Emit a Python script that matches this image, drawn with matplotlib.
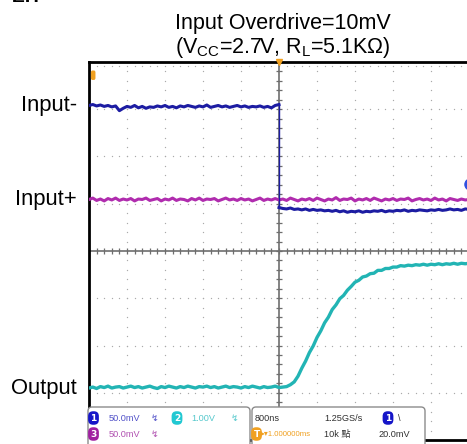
import numpy as np
import matplotlib
matplotlib.use("Agg")
import matplotlib.pyplot as plt
from matplotlib.patches import FancyBboxPatch
import matplotlib.transforms as mtransforms

# ---------------- data (screen divisions; x: -5..5 div, y: -4..4 div) ----------------
title_line1 = "Input Overdrive=10mV"
title_line2 = r"(V$_{\rm CC}$=2.7V, R$_{\rm L}$=5.1K$\Omega$)"
trace_labels = ["Input-", "Input+", "Output"]

input_minus_pre = [3.08, 3.10, 3.07, 3.09, 3.06, 3.08, 3.05, 3.07, 2.97, 3.02,
                   3.06, 3.04, 3.08, 3.03, 3.06, 3.02, 3.05, 3.04, 3.07, 3.05,
                   3.08, 3.04, 3.06, 3.03, 3.07, 3.05, 3.08, 3.06, 3.04, 3.07,
                   3.05, 3.09, 3.04, 3.06, 3.08, 3.05, 3.07, 3.04, 3.06, 3.08,
                   3.05, 3.07, 3.04, 3.06, 3.05, 3.07, 3.04, 3.06, 3.03, 3.08, 3.10]
input_minus_post = [0.92, 0.90, 0.89, 0.91, 0.88, 0.89, 0.87, 0.89, 0.86, 0.88,
                    0.86, 0.87, 0.85, 0.86, 0.84, 0.86, 0.83, 0.85, 0.82, 0.84,
                    0.83, 0.85, 0.82, 0.84, 0.83, 0.85, 0.84, 0.86, 0.83, 0.85,
                    0.84, 0.86, 0.85, 0.87, 0.84, 0.86, 0.85, 0.87, 0.86, 0.85,
                    0.87, 0.86, 0.88, 0.86, 0.87, 0.89, 0.87, 0.88, 0.86, 0.89, 0.88]
input_plus = [1.09, 1.12, 1.07, 1.10, 1.06, 1.11, 1.08, 1.12, 1.07, 1.10,
              1.08, 1.11, 1.06, 1.10, 1.09, 1.12, 1.07, 1.09, 1.11, 1.06,
              1.10, 1.08, 1.12, 1.07, 1.10, 1.09, 1.06, 1.11, 1.08, 1.12,
              1.07, 1.10, 1.09, 1.11, 1.06, 1.09, 1.12, 1.08, 1.10, 1.07,
              1.11, 1.08, 1.10, 1.06, 1.09, 1.12, 1.07, 1.10, 1.08, 1.11,
              1.08, 1.10, 1.07, 1.12, 1.09, 1.06, 1.10, 1.08, 1.11, 1.07,
              1.12, 1.09, 1.06, 1.10, 1.08, 1.13, 1.07, 1.10, 1.09, 1.12,
              1.06, 1.10, 1.08, 1.11, 1.07, 1.12, 1.09, 1.06, 1.10, 1.08,
              1.11, 1.07, 1.10, 1.09, 1.12, 1.06, 1.09, 1.11, 1.08, 1.10,
              1.07, 1.12, 1.08, 1.10, 1.06, 1.11, 1.09, 1.07, 1.10, 1.08, 1.09]
output = [-2.90, -2.88, -2.91, -2.87, -2.89, -2.86, -2.90, -2.88, -2.87, -2.90,
          -2.88, -2.86, -2.89, -2.87, -2.90, -2.88, -2.86, -2.89, -2.91, -2.87,
          -2.89, -2.86, -2.88, -2.90, -2.87, -2.89, -2.86, -2.88, -2.90, -2.87,
          -2.88, -2.86, -2.89, -2.87, -2.90, -2.88, -2.86, -2.89, -2.87, -2.88,
          -2.90, -2.87, -2.89, -2.86, -2.88, -2.90, -2.87, -2.89, -2.88, -2.86,
          -2.89, -2.88,
          -2.87, -2.83, -2.77, -2.65, -2.48, -2.33, -2.15, -2.01, -1.83, -1.69,
          -1.52, -1.40, -1.24, -1.14, -1.01, -0.94, -0.83, -0.75, -0.66, -0.62,
          -0.55, -0.53, -0.48, -0.47, -0.41, -0.41, -0.37, -0.37, -0.34, -0.34,
          -0.31, -0.32, -0.30, -0.31, -0.29, -0.30, -0.28, -0.30, -0.28, -0.29,
          -0.27, -0.29, -0.27, -0.28, -0.26, -0.28, -0.26, -0.27, -0.26]
ch1_marker_level = 1.41

info_left_row1 = ["50.0mV", "1.00V"]
info_left_row2 = ["50.0mV"]
info_right_row1 = ["800ns", "1.25GS/s", "\\"]
info_right_row2 = ["\u25b8\u25be1.000000ms", "10k 點", "20.0mV"]

# ---------------- style ----------------
BLUE = "#1c1ca2"
MAG = "#b02cae"
CYAN = "#22b4b4"
ORANGE = "#f0a020"
GRID = "#a9a9a9"
CENTER = "#6e6e6e"

plt.rcParams["font.family"] = ["Liberation Sans", "DejaVu Sans"]
plt.rcParams["mathtext.fontset"] = "custom"
plt.rcParams["mathtext.rm"] = "Liberation Sans"
plt.rcParams["mathtext.it"] = "Liberation Sans"

W, H = 467, 444
fig = plt.figure(figsize=(W / 100, H / 100), dpi=100)
fig.patch.set_facecolor("white")


def fx(px):
    return px / W


def fy(py):
    return 1 - py / H


ax = fig.add_axes([fx(89), fy(440), (469 - 89) / W, (440 - 62) / H])
ax.set_xlim(-5, 5)
ax.set_ylim(-4, 4)
ax.set_xticks([])
ax.set_yticks([])
ax.spines["right"].set_visible(False)
for s in ["left", "top", "bottom"]:
    ax.spines[s].set_linewidth(2.0)
    ax.spines[s].set_color("black")

# dotted graticule
minor_x = np.round(np.arange(-5, 5.001, 0.2), 3)
minor_y = np.round(np.arange(-4, 4.001, 0.2), 3)
for k in [-4, -3, -2, -1, 1, 2, 3, 4]:
    ax.scatter(np.full_like(minor_y, k), minor_y, s=0.9, color=GRID, lw=0, zorder=1)
for k in [-3, -2, -1, 1, 2, 3]:
    ax.scatter(minor_x, np.full_like(minor_x, k), s=0.9, color=GRID, lw=0, zorder=1)
ax.scatter(minor_x, np.full_like(minor_x, 3.92), s=0.9, color=GRID, lw=0, zorder=1)

# center cross with ticks
ax.axhline(0, color=CENTER, lw=1.2, zorder=1)
ax.axvline(0, color=CENTER, lw=1.2, zorder=1)
ax.scatter(minor_x, np.zeros_like(minor_x), marker="|", s=14, color=CENTER, lw=0.9, zorder=1)
ax.scatter(np.zeros_like(minor_y), minor_y, marker="_", s=14, color=CENTER, lw=0.9, zorder=1)

# traces
t_pre = np.linspace(-5, 0, len(input_minus_pre))
t_post = np.linspace(0, 5, len(input_minus_post))
t_plus = np.linspace(-5, 5, len(input_plus))
t_out = np.linspace(-5, 5, len(output))

ax.plot(t_plus, input_plus, color=MAG, lw=2.2, zorder=3)
ax.plot(t_out, output, color=CYAN, lw=2.4, zorder=3)
ax.plot(t_pre, input_minus_pre, color=BLUE, lw=2.2, zorder=4)
ax.plot(t_post, input_minus_post, color=BLUE, lw=2.2, zorder=4)
ax.plot([t_pre[-1], t_post[0]], [input_minus_pre[-1], input_minus_post[0]],
        color=BLUE, lw=1.0, zorder=4)

# markers
ax.plot([5.02], [ch1_marker_level], "o", ms=8, color="#3050e0", clip_on=False, zorder=5)
ax.plot([0], [4.0], marker="v", ms=4, color=ORANGE, clip_on=False, zorder=6)
ax.add_patch(FancyBboxPatch((-4.95, 3.62), 0.12, 0.2,
                            boxstyle="round,pad=0,rounding_size=0.04",
                            fc=ORANGE, ec="none", zorder=5))

# trace labels
levels = [input_minus_pre[0], input_plus[0], output[0]]
trans = mtransforms.blended_transform_factory(ax.transAxes, ax.transData)
off = mtransforms.ScaledTranslation(0, -5.5 / 100, fig.dpi_scale_trans)
for lab, lev in zip(trace_labels, levels):
    ax.text(-0.032, lev, lab, transform=trans + off, ha="right", va="baseline",
            fontsize=15.8, color="black", clip_on=False)

# title
fig.text(fx(282.5), fy(29.5), title_line1, ha="center", va="baseline", fontsize=15.5)
fig.text(fx(282.5), fy(52.5), title_line2, ha="center", va="baseline", fontsize=15.5)

# fragment of text cut at the top-left
fig.text(fx(0), fy(1.6), "- EH", ha="left", va="baseline", fontsize=14, fontweight="bold")

# ---------------- info boxes (overlay in pixel coordinates) ----------------
ov = fig.add_axes([0, 0, 1, 1], zorder=10)
ov.set_xlim(0, W)
ov.set_ylim(H, 0)
ov.axis("off")
ov.patch.set_alpha(0)

ov.add_patch(FancyBboxPatch((88, 407), 162, 42, boxstyle="round,pad=0,rounding_size=4",
                            fc="white", ec="#8c8c8c", lw=1.0))
ov.add_patch(FancyBboxPatch((252, 407), 173, 42, boxstyle="round,pad=0,rounding_size=4",
                            fc="white", ec="#8c8c8c", lw=1.0))

SMALL = ["Liberation Sans Narrow", "Liberation Sans", "Noto Sans CJK TC", "DejaVu Sans"]
fs = 6.6
r1, r2 = 418, 434


def badge(x, y, txt, color):
    ov.text(x, y, txt, ha="center", va="center", fontsize=6.5, color="white",
            fontweight="bold", family=["DejaVu Sans"],
            bbox=dict(boxstyle="round,pad=0.25,rounding_size=0.55", fc=color, ec="none"))


def small(x, y, txt, color, ha="left", size=fs):
    ov.text(x, y, txt, ha=ha, va="center", fontsize=size, color=color, family=SMALL)


badge(93.5, r1, "1", "#1515c8")
small(109, r1, info_left_row1[0], "#5050c8")
small(151, r1, "\u21af", "#5050c8")
badge(177, r1, "2", "#22c8d2")
small(191, r1, info_left_row1[1], "#55c8cc")
small(231, r1, "\u21af", "#55c8cc")
badge(93.5, r2, "3", "#a020a0")
small(109, r2, info_left_row2[0], "#b050b0")
small(151, r2, "\u21af", "#b050b0")

small(255, r1, info_right_row1[0], "#303030")
small(324, r1, info_right_row1[1], "#303030")
badge(388, r1, "1", "#1515c8")
small(398, r1, info_right_row1[2], "#303030")
badge(256.5, r2, "T", ORANGE)
small(261, r2, info_right_row2[0], ORANGE, size=5.6)
small(324, r2, info_right_row2[1], "#303030")
small(378, r2, info_right_row2[2], "#303030")

fig.savefig("out.png", dpi=100, facecolor="white")
